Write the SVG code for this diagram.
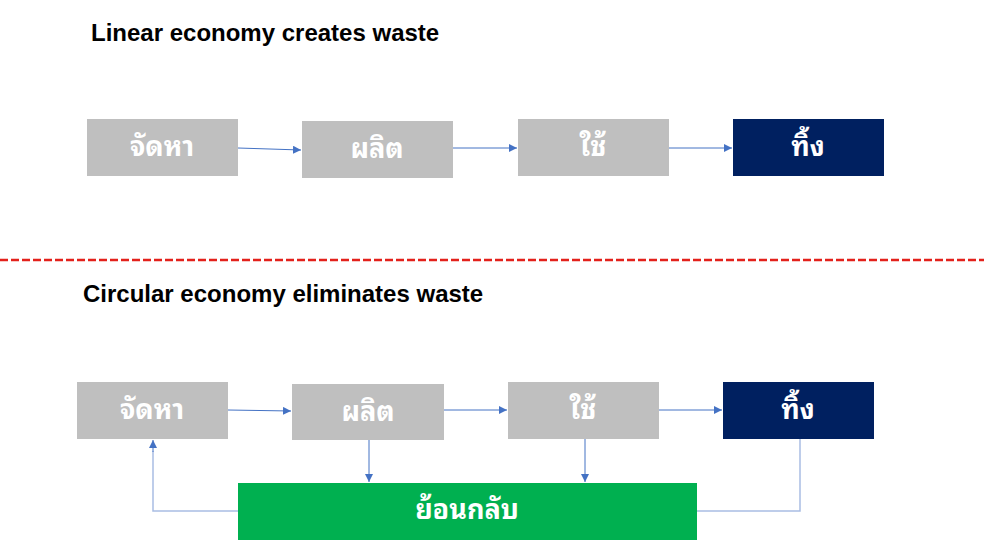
<svg xmlns="http://www.w3.org/2000/svg" width="984" height="555" viewBox="0 0 984 555">
<style>
.title{font-family:"Liberation Sans",Arial,sans-serif;font-weight:bold;font-size:24px;fill:#000}
.lbl{font-family:"Tahoma","Noto Sans Thai Looped","Loma","Garuda","Noto Sans Thai","Noto Sans","DejaVu Sans",sans-serif;font-weight:bold;font-size:27px;fill:#fff;text-anchor:middle}
.gray{fill:#bfbfbf}
.navy{fill:#002060}
.green{fill:#00b050}
.con{fill:none;stroke:#4472c4;stroke-width:1}
.con2{fill:none;stroke:#a9bde3;stroke-width:1.5}
</style>
<defs>
<marker id="ah" viewBox="0 0 10 10" refX="10" refY="5" markerWidth="8" markerHeight="8" markerUnits="userSpaceOnUse" orient="auto">
<path d="M0,0 L10,5 L0,10 z" fill="#4472c4"/>
</marker>
</defs>
<rect width="984" height="555" fill="#fff"/>
<text class="title" x="91" y="41">Linear economy creates waste</text>
<text class="title" x="83" y="302">Circular economy eliminates waste</text>
<line x1="0" y1="260" x2="984" y2="260" stroke="#e3211b" stroke-width="2.5" stroke-dasharray="8,3"/>
<g id="connectors">
<path class="con" d="M238,148 L301,150" marker-end="url(#ah)"/>
<path class="con" d="M453,148 L517,148" marker-end="url(#ah)"/>
<path class="con" d="M669,148 L732,148" marker-end="url(#ah)"/>
<path class="con" d="M228,410 L291,411" marker-end="url(#ah)"/>
<path class="con" d="M444,410 L507,410" marker-end="url(#ah)"/>
<path class="con" d="M659,410 L722,410" marker-end="url(#ah)"/>
<path class="con" d="M369,440 L369,482" marker-end="url(#ah)"/>
<path class="con" d="M585,439 L585,482" marker-end="url(#ah)"/>
<path class="con2" d="M800,439 L800,511 L697,511"/>
<path class="con2" d="M238,511 L153,511 L153,451"/>
<path class="con" d="M153,452 L153,440" marker-end="url(#ah)"/>
</g>
<g id="l-supply"><rect class="gray" x="87" y="119" width="151" height="57"/><text class="lbl" x="162" y="156">จัดหา</text></g>
<g id="l-produce"><rect class="gray" x="302" y="121" width="151" height="57"/><text class="lbl" x="377" y="158">ผลิต</text></g>
<g id="l-use"><rect class="gray" x="518" y="119" width="151" height="57"/><text class="lbl" x="593" y="156">ใช้</text></g>
<g id="l-dispose"><rect class="navy" x="733" y="119" width="151" height="57"/><text class="lbl" x="808" y="156">ทิ้ง</text></g>
<g id="c-supply"><rect class="gray" x="77" y="382" width="151" height="57"/><text class="lbl" x="152" y="419">จัดหา</text></g>
<g id="c-produce"><rect class="gray" x="292" y="384" width="152" height="56"/><text class="lbl" x="368" y="421">ผลิต</text></g>
<g id="c-use"><rect class="gray" x="508" y="382" width="151" height="57"/><text class="lbl" x="583" y="419">ใช้</text></g>
<g id="c-dispose"><rect class="navy" x="723" y="382" width="151" height="57"/><text class="lbl" x="798" y="419">ทิ้ง</text></g>
<g id="c-return"><rect class="green" x="238" y="483" width="459" height="57"/><text class="lbl" x="467" y="519">ย้อนกลับ</text></g>
</svg>
